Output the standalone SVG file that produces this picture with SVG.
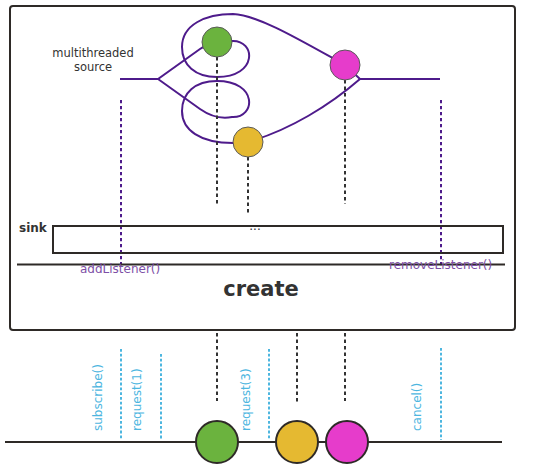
<svg xmlns="http://www.w3.org/2000/svg" width="533" height="467" viewBox="0 0 533 467">
<style>
text{font-family:"DejaVu Sans","Liberation Sans",sans-serif;font-size:12px}
.dark{fill:#333}
.purpleText{fill:#7d4fa6}
.blueText{fill:#4db6df}
.flow{fill:none;stroke:#4e1b8b;stroke-width:2}
.blk{stroke:#333;stroke-width:2;stroke-dasharray:3.5 3;fill:none}
.pur{stroke:#4e1b8b;stroke-width:2;stroke-dasharray:3.3 2.7;fill:none}
.blu{stroke:#4db6df;stroke-width:2;stroke-dasharray:2.8 2;fill:none}
.solid{stroke:#2e2a27;fill:none}
.mSmall{stroke:#5a5a5a;stroke-width:1}
.mBig{stroke:#2e2a27;stroke-width:2}
.g{fill:#6bb33e}
.y{fill:#e5b931}
.p{fill:#e63ccb}
</style>
<rect x="10" y="6" width="505" height="324" rx="3" class="solid" stroke-width="2"/>
<g id="connectors">
<path class="flow" d="M120,79 L158,79 L200,49 C210,42 222,40 232,41 C256,40 258,77 217,77 C195,77 182,65 182,47 C182,25 205,14 233,14 C258,15 300,40 345,65 L360,79"/>
<path class="flow" d="M158,79 L200,109 C210,116 222,119 232,117 C256,118 258,81 217,81 C195,81 182,93 182,111 C182,130 200,143 233,143 L248,142 C290,130 330,105 360,79 L440,79"/>
<line class="blk" x1="217" y1="57" x2="217" y2="205"/>
<line class="blk" x1="248" y1="157" x2="248" y2="214"/>
<line class="blk" x1="345" y1="80" x2="345" y2="204"/>
<line class="pur" x1="121" y1="100" x2="121" y2="266"/>
<line class="pur" x1="441" y1="100" x2="441" y2="266"/>
<line class="solid" stroke-width="2" x1="17" y1="264.5" x2="505" y2="264.5"/>
<line class="blk" x1="217" y1="333" x2="217" y2="401"/>
<line class="blk" x1="297" y1="333" x2="297" y2="402"/>
<line class="blk" x1="345" y1="333" x2="345" y2="401"/>
<line class="blu" x1="121" y1="349" x2="121" y2="440"/>
<line class="blu" x1="161" y1="354" x2="161" y2="440"/>
<line class="blu" x1="269" y1="349" x2="269" y2="440"/>
<line class="blu" x1="441" y1="348" x2="441" y2="440"/>
<line class="solid" stroke-width="2" x1="5" y1="442" x2="502" y2="442"/>
</g>
<g id="source-label">
<text class="dark" x="93" y="57" text-anchor="middle" style="font-size:11.5px">multithreaded</text>
<text class="dark" x="93" y="70.5" text-anchor="middle" style="font-size:11.5px">source</text>
</g>
<g id="green-top"><circle cx="217" cy="42" r="15" class="g mSmall"/></g>
<g id="pink-top"><circle cx="345" cy="65" r="15" class="p mSmall"/></g>
<g id="yellow-top"><circle cx="248" cy="142" r="15" class="y mSmall"/></g>
<g id="sink">
<rect x="53" y="226" width="450" height="27" class="solid" stroke-width="2"/>
<text class="dark" x="19" y="232" font-weight="bold">sink</text>
<text class="dark" x="255" y="230" text-anchor="middle">...</text>
</g>
<g id="listener-labels">
<text class="purpleText" x="80" y="273">addListener()</text>
<text class="purpleText" x="389" y="269">removeListener()</text>
</g>
<g id="create-label">
<text class="dark" x="261" y="296" text-anchor="middle" font-weight="bold" style="font-size:21px">create</text>
</g>
<g id="request-labels">
<text class="blueText" transform="translate(102,431) rotate(-90)">subscribe()</text>
<text class="blueText" transform="translate(141,431) rotate(-90)">request(1)</text>
<text class="blueText" transform="translate(250,431) rotate(-90)">request(3)</text>
<text class="blueText" transform="translate(421,431) rotate(-90)">cancel()</text>
</g>
<g id="green-bottom"><circle cx="217" cy="442" r="21" class="g mBig"/></g>
<g id="yellow-bottom"><circle cx="297" cy="442" r="21" class="y mBig"/></g>
<g id="pink-bottom"><circle cx="347" cy="442" r="21" class="p mBig"/></g>
</svg>
